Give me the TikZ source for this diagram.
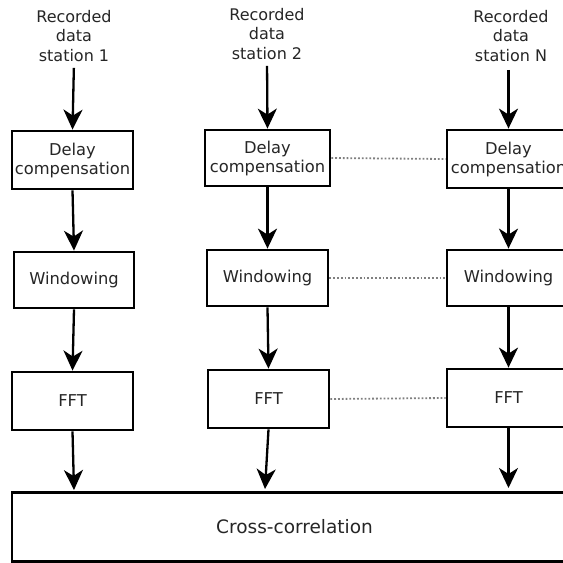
\documentclass[tikz,border=0pt]{standalone}
\usepackage{fontspec}
\setmainfont{DejaVu Sans}
\usetikzlibrary{arrows.meta}
\begin{document}
\begin{tikzpicture}[x=1pt,y=-1pt,
  blk/.style={draw=black,line width=2.8pt,fill=white,inner sep=0pt,align=center,
    font=\fontsize{16.3}{19}\selectfont,text=black!85},
  lab/.style={inner sep=0pt,align=center,font=\fontsize{16}{19.5}\selectfont,text=black!85},
  arr/.style={line width=2.3pt,-{Stealth[length=20pt,width=19pt,inset=6pt]}},
  link/.style={draw=black!50,line width=1.8pt,dash pattern=on 1.8pt off 2pt}]
\useasboundingbox (0,0) rectangle (563,563);
\clip (0,0) rectangle (563,563);
\fill[white] (0,0) rectangle (563,563);
% labels
\node[lab] (l1) at (74,36) {Recorded\\data\\station 1};
\node[lab] (l2) at (267,34) {Recorded\\data\\station 2};
\node[lab] (l3) at (511,36) {Recorded\\data\\station N};
% delay
\node[blk,minimum width=121pt,minimum height=58pt] (d1) at (72.5,160) {Delay\\compensation};
\node[blk,minimum width=125pt,minimum height=56pt] (d2) at (267.5,158) {Delay\\compensation};
\node[blk,minimum width=123pt,minimum height=58pt] (d3) at (508.5,159) {Delay\\compensation};
% windowing
\node[blk,minimum width=120pt,minimum height=56pt] (w1) at (74,280) {Windowing};
\node[blk,minimum width=121pt,minimum height=56pt] (w2) at (267.5,278) {Windowing};
\node[blk,minimum width=123pt,minimum height=56pt] (w3) at (508.5,278) {Windowing};
% fft
\node[blk,minimum width=121pt,minimum height=58pt] (f1) at (72.5,401) {FFT};
\node[blk,minimum width=121pt,minimum height=58pt] (f2) at (268.5,399) {FFT};
\node[blk,minimum width=123pt,minimum height=58pt] (f3) at (508.5,398) {FFT};
% cross-correlation
\node[blk,minimum width=565pt,minimum height=69pt,font=\fontsize{18.5}{22}\selectfont] (cc) at (294.5,527) {Cross-correlation};
% arrows
\draw[arr,shorten <=6pt] (l1.south) -- (d1.north);
\draw[arr,shorten <=6pt] (l2.south) -- (d2.north);
\draw[arr,shorten <=8pt] (l3.south -| d3.north) -- (d3.north);
\draw[arr] (d1.south) -- (w1.north);
\draw[arr] (d2.south) -- (w2.north);
\draw[arr] (d3.south) -- (w3.north);
\draw[arr] (w1.south) -- (f1.north);
\draw[arr] (w2.south) -- (f2.north);
\draw[arr] (w3.south) -- (f3.north);
\coordinate (c1) at (74,490);
\coordinate (c2) at (265,489);
\coordinate (c3) at (508.5,488);
\draw[arr] (f1.south) -- (c1);
\draw[arr] (f2.south) -- (c2);
\draw[arr] (f3.south) -- (c3);
% dotted links
\draw[link] (d2.east) -- (d3.west);
\draw[link] (w2.east) -- (w3.west);
\draw[link] (f2.east) -- (f3.west);
\end{tikzpicture}
\end{document}
